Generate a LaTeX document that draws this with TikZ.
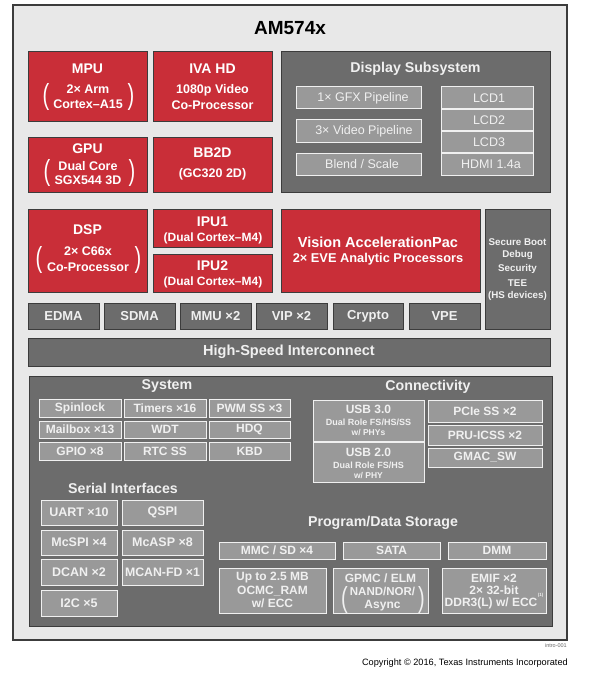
\documentclass[tikz,border=0pt]{standalone}
\usepackage{graphicx}
\usepackage{fontspec}
\setmainfont{Liberation Sans}
\definecolor{tired}{RGB}{201,46,56}
\definecolor{dkg}{RGB}{108,108,108}
\definecolor{mdg}{RGB}{153,153,153}
\definecolor{bgg}{RGB}{232,232,232}
\definecolor{edge}{RGB}{60,60,60}
\definecolor{ltx}{RGB}{240,240,240}
\newcommand{\fs}[1]{\fontsize{#1}{#1}\selectfont}
\newcommand{\tallp}[1]{\scalebox{1}[1.45]{\fs{20}#1}}
\newcommand{\blk}[7]{\node[#2, minimum width={#5-#3}, minimum height={#6-#4}, anchor=north west] (#1) at (#3,#4) {#7};}
\tikzset{
  base/.style={inner sep=0pt, outer sep=0pt},
  outerbox/.style={base, fill=bgg, draw=edge, line width=1.2pt},
  redb/.style={base, fill=tired, draw=edge, line width=0.9pt},
  grayb/.style={base, fill=dkg, draw=edge, line width=0.9pt, text=ltx, font=\fs{13}\bfseries},
  inb/.style={base, fill=mdg, draw=white!88!gray, line width=1pt, text=ltx, font=\fs{12}\bfseries},
  dsb/.style={base, fill=mdg, draw=white!88!gray, line width=1pt},
  wt/.style={inner sep=0pt, text=white},
  lt/.style={inner sep=0pt, text=ltx},
  paren/.style={inner sep=0pt, text=white},
  dstxt/.style={inner sep=0pt, text=ltx, font=\fs{12.5}},
  sect/.style={inner sep=0pt, text=ltx, font=\fs{14.2}\bfseries}
}
\begin{document}
\begin{tikzpicture}[x=1pt,y=-1pt]
\useasboundingbox (0,0) rectangle (590,674);
\fill[white] (0,0) rectangle (590,674);
\blk{chip}{outerbox}{13}{5}{567}{640}{}
\node[inner sep=0pt, font=\fs{19}\bfseries] (title) at (290,28) {AM574x};

% MPU
\blk{mpu}{redb}{28}{51}{147}{121}{}
\node[wt, font=\fs{14}\bfseries] (mpuT) at (87.5,69) {MPU};
\node[wt, font=\fs{12.5}\bfseries] (mpuA) at (88,89) {2× Arm};
\node[wt, font=\fs{12.5}\bfseries] (mpuB) at (88,104) {Cortex–A15};
\node[paren] (mpuL) at (46,97) {\tallp{(}};
\node[paren] (mpuR) at (131,97) {\tallp{)}};
% IVA HD
\blk{iva}{redb}{153}{51}{272}{121}{}
\node[wt, font=\fs{14}\bfseries] (ivaT) at (212.5,69) {IVA HD};
\node[wt, font=\fs{12.5}\bfseries] (ivaA) at (212.5,90) {1080p Video};
\node[wt, font=\fs{12.5}\bfseries] (ivaB) at (212.5,105) {Co-Processor};
% GPU
\blk{gpu}{redb}{28}{137}{147}{192}{}
\node[wt, font=\fs{14}\bfseries] (gpuT) at (87.5,149) {GPU};
\node[wt, font=\fs{12.5}\bfseries] (gpuA) at (88,166) {Dual Core};
\node[wt, font=\fs{12.5}\bfseries] (gpuB) at (88,180) {SGX544 3D};
\node[paren] (gpuL) at (47,173) {\tallp{(}};
\node[paren] (gpuR) at (132,173) {\tallp{)}};
% BB2D
\blk{bb2d}{redb}{153}{137}{272}{192}{}
\node[wt, font=\fs{14}\bfseries] (bbT) at (212.5,153) {BB2D};
\node[wt, font=\fs{12.5}\bfseries] (bbA) at (212.5,174) {(GC320 2D)};

% Display subsystem
\blk{dss}{grayb}{281}{51}{550}{192}{}
\node[sect] (dssT) at (415.5,69) {Display Subsystem};
\blk{gfx}{dsb}{296}{87}{421}{109}{}
\node[dstxt] (gfxT) at (363,98) {1× GFX Pipeline};
\blk{vid}{dsb}{296}{120}{421}{142}{}
\node[dstxt] (vidT) at (364,131) {3× Video Pipeline};
\blk{bls}{dsb}{296}{153}{421}{175}{}
\node[dstxt] (blsT) at (362,164) {Blend / Scale};
\blk{lcd1}{dsb}{441}{87}{533}{108.6}{}
\node[dstxt] (lcd1T) at (489,98) {LCD1};
\blk{lcd2}{dsb}{441}{109.4}{533}{130.6}{}
\node[dstxt] (lcd2T) at (489,120) {LCD2};
\blk{lcd3}{dsb}{441}{131.4}{533}{152.6}{}
\node[dstxt] (lcd3T) at (489,142) {LCD3};
\blk{hdmi}{dsb}{441}{153.4}{533}{175}{}
\node[dstxt] (hdmiT) at (491,164) {HDMI 1.4a};

% DSP
\blk{dsp}{redb}{28}{209}{147}{292}{}
\node[wt, font=\fs{14}\bfseries] (dspT) at (87.5,230) {DSP};
\node[wt, font=\fs{12.5}\bfseries] (dspA) at (88,251) {2× C66x};
\node[wt, font=\fs{12.5}\bfseries] (dspB) at (88,267) {Co-Processor};
\node[paren] (dspL) at (39,260) {\tallp{(}};
\node[paren] (dspR) at (138,260) {\tallp{)}};
% IPU1/2
\blk{ipu1}{redb}{153}{209}{272}{247}{}
\node[wt, font=\fs{14}\bfseries] (ipu1T) at (212.5,222) {IPU1};
\node[wt, font=\fs{12}\bfseries] (ipu1A) at (213,238) {(Dual Cortex–M4)};
\blk{ipu2}{redb}{153}{254}{272}{292}{}
\node[wt, font=\fs{14}\bfseries] (ipu2T) at (212.5,266) {IPU2};
\node[wt, font=\fs{12}\bfseries] (ipu2A) at (213,282) {(Dual Cortex–M4)};
% Vision
\blk{vap}{redb}{281}{209}{480}{292}{}
\node[wt, font=\fs{14.5}\bfseries] (vapT) at (378,242) {Vision AccelerationPac};
\node[wt, font=\fs{12.8}\bfseries] (vapA) at (378,259) {2× EVE Analytic Processors};
% Secure
\blk{sec}{grayb}{485}{209}{550}{329}{}
\node[lt, font=\fs{9.8}\bfseries] (sec1) at (517.5,242) {Secure Boot};
\node[lt, font=\fs{9.8}\bfseries] (sec2) at (517.5,255) {Debug};
\node[lt, font=\fs{9.8}\bfseries] (sec3) at (517.5,269) {Security};
\node[lt, font=\fs{9.8}\bfseries] (sec4) at (517.5,283) {TEE};
\node[lt, font=\fs{9.8}\bfseries] (sec5) at (517.5,296) {(HS devices)};

% row of DMA etc
\blk{edma}{grayb}{28}{303}{99}{329}{EDMA}
\blk{sdma}{grayb}{104}{303}{175}{329}{SDMA}
\blk{mmu}{grayb}{180}{303}{251}{329}{MMU ×2}
\blk{vip}{grayb}{256}{303}{327}{329}{VIP ×2}
\blk{crypto}{grayb}{333}{303}{403}{329}{Crypto}
\blk{vpe}{grayb}{409}{303}{480}{329}{VPE}

\blk{hsi}{grayb, font=\fs{14.5}\bfseries}{28}{338}{550}{366}{High-Speed Interconnect}

% peripherals
\blk{peri}{grayb}{29}{376}{552}{626}{}
\node[sect] (sysT) at (167,386) {System};
\blk{spin}{inb}{39}{399}{121}{417}{Spinlock}
\blk{tim}{inb}{124}{399}{206}{417}{Timers ×16}
\blk{pwm}{inb}{209}{399}{290}{417}{PWM SS ×3}
\blk{mbx}{inb}{39}{421}{121}{438}{Mailbox ×13}
\blk{wdt}{inb}{124}{421}{206}{438}{WDT}
\blk{hdq}{inb}{209}{421}{290}{438}{HDQ}
\blk{gpio}{inb}{39}{442}{121}{460}{GPIO ×8}
\blk{rtc}{inb}{124}{442}{206}{460}{RTC SS}
\blk{kbd}{inb}{209}{442}{290}{460}{KBD}

\node[sect] (conT) at (428,387) {Connectivity};
\blk{usb3}{inb}{313}{400}{424}{441}{}
\node[lt, font=\fs{12}\bfseries] (usb3T) at (368.5,409) {USB 3.0};
\node[lt, font=\fs{9}\bfseries] (usb3A) at (368.5,422) {Dual Role FS/HS/SS};
\node[lt, font=\fs{8.5}\bfseries] (usb3B) at (368.5,433) {w/ PHYs};
\blk{usb2}{inb}{313}{442}{424}{482}{}
\node[lt, font=\fs{12}\bfseries] (usb2T) at (368.5,452) {USB 2.0};
\node[lt, font=\fs{9}\bfseries] (usb2A) at (368.5,465) {Dual Role FS/HS};
\node[lt, font=\fs{8.5}\bfseries] (usb2B) at (368.5,475) {w/ PHY};
\blk{pcie}{inb}{428}{400}{542}{422}{PCIe SS ×2}
\blk{pru}{inb}{428}{425}{542}{445}{PRU-ICSS ×2}
\blk{gmac}{inb}{428}{448}{542}{467}{GMAC\_SW}

\node[sect] (serT) at (123,488) {Serial Interfaces};
\blk{uart}{inb, font=\fs{12.5}\bfseries}{41}{500}{117}{525}{UART ×10}
\blk{qspi}{inb, font=\fs{12.5}\bfseries}{122}{500}{203}{525}{QSPI}
\blk{mcspi}{inb, font=\fs{12.5}\bfseries}{41}{530}{117}{555}{McSPI ×4}
\blk{mcasp}{inb, font=\fs{12.5}\bfseries}{122}{530}{203}{555}{McASP ×8}
\blk{dcan}{inb, font=\fs{12.5}\bfseries}{41}{559}{117}{585}{DCAN ×2}
\blk{mcan}{inb, font=\fs{12.3}\bfseries}{122}{559}{203}{585}{MCAN-FD ×1}
\blk{itc}{inb, font=\fs{12.5}\bfseries}{41}{590}{117}{616}{I2C ×5}

\node[sect] (pdsT) at (383,523) {Program/Data Storage};
\blk{mmc}{inb}{219}{542}{335}{559}{MMC / SD ×4}
\blk{sata}{inb}{343}{542}{440}{559}{SATA}
\blk{dmm}{inb}{448}{542}{546}{559}{DMM}
\blk{ocmc}{inb}{219}{568}{326}{613}{}
\node[lt, font=\fs{12}\bfseries] (ocmcA) at (272.5,578) {Up to 2.5 MB};
\node[lt, font=\fs{12}\bfseries] (ocmcB) at (272.5,591) {OCMC\_RAM};
\node[lt, font=\fs{12}\bfseries] (ocmcC) at (272.5,603) {w/ ECC};
\blk{gpmc}{inb}{333}{568}{428}{613}{}
\node[lt, font=\fs{12}\bfseries] (gpmcA) at (380.5,578) {GPMC / ELM};
\node[lt, font=\fs{11.5}\bfseries] (gpmcB) at (382.5,591) {NAND/NOR/};
\node[lt, font=\fs{12}\bfseries] (gpmcC) at (382.5,606) {Async};
\node[paren, text=ltx] (gpmcL) at (344.5,600) {\tallp{(}};
\node[paren, text=ltx] (gpmcR) at (421.5,600) {\tallp{)}};
\blk{emif}{inb}{442}{568}{546}{613}{}
\node[lt, font=\fs{12}\bfseries] (emifA) at (494,578) {EMIF ×2};
\node[lt, font=\fs{12}\bfseries] (emifB) at (494,590) {2× 32-bit};
\node[lt, font=\fs{12}\bfseries, anchor=west] (emifC) at (444.5,603) {DDR3(L) w/ ECC};
\node[lt, font=\fs{4.5}\bfseries, anchor=south west] (emifN) at (emifC.north east) {(1)};

\node[inner sep=0pt, anchor=east, font=\fs{5.5}, text=black!60] (intro) at (567,646) {intro-001};
\node[inner sep=0pt, anchor=east, font=\fs{9.2}] (copy) at (568,663) {Copyright © 2016, Texas Instruments Incorporated};
\end{tikzpicture}
\end{document}
